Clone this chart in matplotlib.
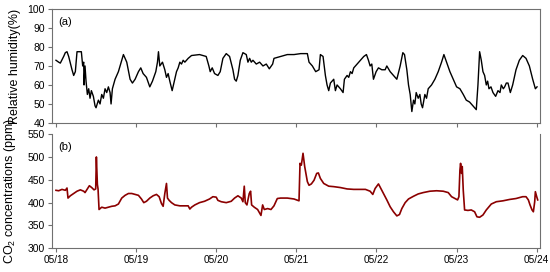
import numpy as np
import matplotlib
matplotlib.use('Agg')
import matplotlib.pyplot as plt

plt.rcParams['font.family'] = ['Liberation Sans', 'DejaVu Sans']
plt.rcParams['mathtext.fontset'] = 'custom'
plt.rcParams['mathtext.rm'] = 'Liberation Sans'
plt.rcParams['mathtext.it'] = 'Liberation Sans'

# hours since 05/18 00:00 and relative humidity (%)
rh_hours = [0, 0.8, 1.3, 2.3, 2.8, 3.3, 3.8, 4.8, 5.3, 5.8, 6.3, 7.6, 8.0, 8.3, 8.4, 8.7, 9.0, 9.4,
            9.8, 10.2, 10.6, 11.2, 11.7, 12.0, 12.7, 13.2, 13.7, 14.2, 14.7, 15.2, 15.7, 16.2, 16.5,
            16.9, 17.7, 18.7, 19.7, 20.2, 21.2, 22.2, 22.9, 23.7, 24.7, 25.4, 26.1, 27.1, 28.1, 28.9,
            29.9, 30.4, 30.7, 31.1, 31.9, 32.6, 33.1, 33.6, 34.1, 34.8, 35.6, 36.1, 36.6, 37.1, 37.6,
            38.1, 38.6, 39.6, 40.6, 43.0, 45.0, 45.8, 46.2, 46.8, 47.5, 48.5, 49.2, 50.0, 51.0, 52.0,
            53.0, 53.5, 54.0, 54.5, 55.2, 56.0, 57.0, 57.5, 58.0, 58.5, 59.0, 60.0, 61.0, 62.0, 63.0,
            63.9, 64.9, 65.3, 67.3, 69.3, 71.3, 73.3, 75.3, 75.8, 76.8, 77.8, 78.8, 79.2, 80.0, 80.7,
            81.2, 81.7, 82.2, 82.7, 83.2, 83.7, 84.2, 84.7, 85.2, 86.0, 86.4, 87.2, 87.7, 88.2, 88.7,
            89.2, 90.2, 91.2, 92.2, 93.0, 93.6, 94.1, 94.6, 95.1, 95.9, 96.6, 97.6, 98.6, 99.1, 100.1,
            101.1, 102.1, 103.1, 103.9, 104.4, 105.1, 105.6, 106.1, 106.6, 107.1, 107.5, 107.9, 108.5,
            109.0, 109.4, 109.8, 110.5, 111.0, 111.5, 112.5, 113.5, 114.5, 115.5, 116.2, 117.0, 118.0,
            119.0, 120.0, 121.0, 122.0, 122.9, 123.9, 124.9, 125.9, 126.4, 126.9, 127.4, 127.9, 128.4,
            128.9, 129.3, 129.7, 130.3, 130.9, 131.7, 132.4, 133.0, 133.4, 134.0, 134.4, 134.9, 135.4,
            136.1, 136.8, 137.8, 138.8, 139.8, 140.8, 141.8, 142.8, 143.6, 144.1]
rh_values = [73, 72, 71.5, 75, 77, 77.5, 75, 68, 65, 67, 77.5, 77.5, 70, 72, 60, 70, 62, 55,
             58, 53, 57, 54, 49, 48, 52, 50, 55, 53, 58, 56, 59, 56, 50,
             58, 63, 67, 73, 76, 72, 63, 61, 63, 67, 69, 66, 64, 59, 62,
             67, 72, 77.5, 70, 72, 68, 64, 66, 62, 57, 63, 67, 69, 72, 71,
             73, 72, 74, 75.5, 76, 75, 70, 67, 69, 66, 65, 67, 74, 76.5, 75,
             68, 63, 62, 65, 73, 77, 76, 72, 74, 72, 73, 71, 72, 70, 71,
             68.5, 71, 74, 75, 76, 76, 76.5, 76.5, 72, 70, 67, 68, 76, 75, 65,
             60, 57, 61, 62, 63, 57, 60, 59, 58, 56, 63, 65, 64, 67, 66,
             69, 71, 73, 75, 76, 73, 70, 71, 63, 67, 69, 68, 68, 70, 67,
             65, 63, 70, 77, 76, 68, 60, 55, 46, 52, 50, 56, 53,
             55, 50, 48, 55, 53, 58, 60, 63, 67, 72, 76, 72, 67,
             63, 59, 58, 55, 52, 51, 49, 47, 60, 77.5, 73, 67, 65,
             60, 62, 58, 59, 56, 54, 57, 56, 60, 58, 59, 61, 61,
             56, 60, 68, 73, 75.5, 74, 70, 63, 58, 59]

# hours since 05/18 00:00 and CO2 (ppm)
co2_hours = [0, 0.8, 1.8, 2.8, 3.3, 3.6, 4.3, 5.3, 6.3, 7.3, 8.3, 8.7, 9.4, 10.0, 10.7, 11.4, 11.9,
             12.1, 12.4, 12.6, 12.9, 13.7, 14.7, 15.7, 16.7, 17.7, 18.7, 19.7, 20.7, 21.7, 22.7, 23.7,
             24.7, 25.6, 26.3, 27.1, 28.1, 29.1, 30.1, 30.9, 31.6, 32.1, 32.6, 33.1, 33.4, 33.9, 34.6,
             35.6, 37.1, 38.6, 39.6, 40.1, 40.6, 41.6, 43.0, 44.5, 46.0, 47.0, 48.0, 48.5, 49.5, 51.0,
             52.5, 53.5, 54.5, 55.5, 56.0, 56.4, 56.7, 57.2, 57.9, 58.3, 58.6, 59.4, 60.4, 61.4, 61.9,
             62.4, 63.4, 64.4, 65.3, 66.3, 67.3, 69.3, 71.3, 72.8, 73.1, 73.5, 74.0, 74.5, 75.3, 75.8,
             76.5, 77.3, 78.1, 78.6, 79.2, 80.2, 81.7, 83.2, 85.2, 87.2, 89.2, 91.2, 92.7, 94.1, 94.9,
             95.6, 96.6, 97.3, 98.1, 99.1, 100.1, 101.1, 102.1, 102.9, 103.6, 104.6, 105.6, 107.1, 108.5,
             110.0, 112.0, 114.0, 116.0, 117.5, 118.5, 119.5, 120.3, 120.7, 121.0, 121.2, 121.5, 121.7,
             122.0, 122.4, 123.4, 124.4, 125.4, 126.1, 126.9, 127.9, 128.9, 130.4, 131.9, 133.9, 135.9,
             137.8, 139.8, 140.8, 141.5, 142.0, 142.6, 143.0, 143.4, 143.6, 144.0, 144.3]
co2_values = [427, 426, 429, 427, 432, 410, 415, 420, 425, 428, 425, 422, 430, 437, 433, 428, 430,
              500, 440, 430, 385, 390, 388, 390, 392, 393, 397, 410, 416, 420, 420, 418,
              416, 408, 400, 403, 410, 415, 418, 413, 398, 392, 420, 442, 410, 405, 400,
              395, 393, 393, 393, 386, 390, 395, 400, 403, 408, 413, 412, 405, 402, 400,
              403, 410, 415, 410, 402, 436, 400, 395, 420, 425, 395, 390, 385, 372, 395,
              385, 387, 385, 393, 409, 410, 410, 408, 404, 486, 482, 508, 479, 446, 438,
              441, 449, 464, 465, 453, 442, 436, 435, 433, 430, 429, 429, 429, 425, 418,
              431, 441, 431, 420, 406, 391, 380, 371, 374, 387, 400, 408, 414, 419,
              422, 425, 426, 425, 422, 413, 409, 406, 413, 471, 486, 464, 479,
              427, 384, 383, 384, 380, 369, 368, 373, 384, 397, 402, 404, 407,
              409, 413, 413, 406, 395, 384, 380, 402, 424, 413, 406]

date_labels = ['05/18', '05/19', '05/20', '05/21', '05/22', '05/23', '05/24']

fig = plt.figure(figsize=(5.5, 2.72), dpi=100)
ax1 = fig.add_axes([0.0945, 0.548, 0.888, 0.419])
ax2 = fig.add_axes([0.0945, 0.087, 0.888, 0.42])

ax1.plot(rh_hours, rh_values, color='black', lw=1.0)
ax2.plot(co2_hours, co2_values, color='#8b0000', lw=1.2)

xticks = np.arange(len(date_labels)) * 24
for ax in (ax1, ax2):
    ax.set_xlim(-1.2, 145.1)
    ax.set_xticks(xticks)
    for s in ax.spines.values():
        s.set_color('#707070')
    ax.tick_params(direction='out', length=3, width=0.8, color='#707070',
                   labelsize=7.5, pad=2)

ax1.set_ylim(40, 100)
ax1.set_yticks(range(40, 101, 10))
ax1.set_xticklabels([])
ax1.set_ylabel('Relative humidity(%)', fontsize=9)
ax1.yaxis.set_label_coords(-0.064, 0.5)
ax1.text(0.012, 0.93, '(a)', transform=ax1.transAxes, fontsize=8, va='top')

ax2.set_ylim(300, 550)
ax2.set_yticks(range(300, 551, 50))
ax2.set_xticklabels(date_labels, fontsize=7.2)
ax2.spines['top'].set_visible(False)
ax2.set_ylabel('CO$_2$ concentrations (ppm)', fontsize=9)
ax2.yaxis.set_label_coords(-0.07, 0.5)
ax2.text(0.012, 0.93, '(b)', transform=ax2.transAxes, fontsize=8, va='top')

plt.savefig('out.png', dpi=100)
